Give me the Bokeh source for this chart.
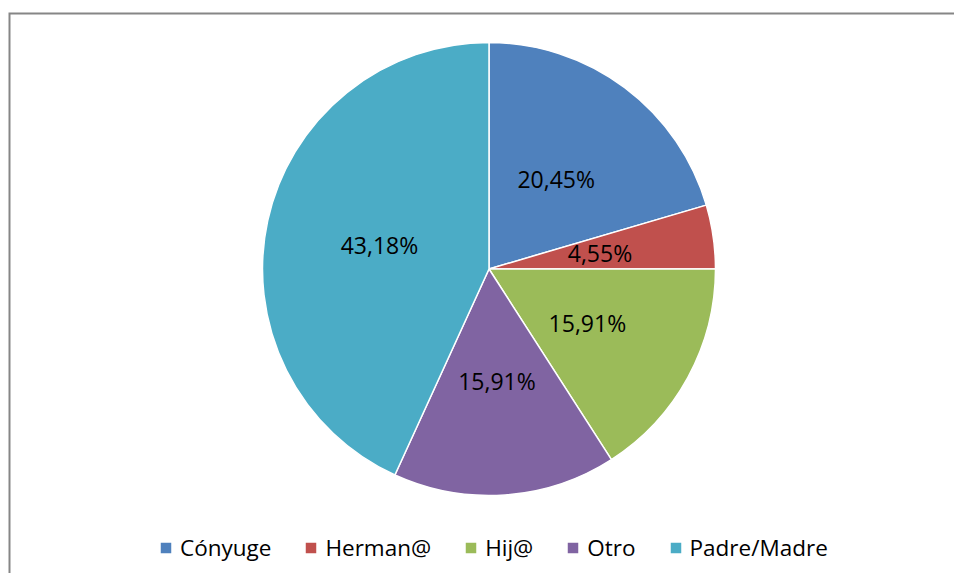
import math
from bokeh.plotting import figure
from bokeh.models import ColumnDataSource, Range1d, Legend, LegendItem
from bokeh.core.properties import value
from bokeh.embed import file_html
from bokeh.resources import INLINE

# ---- data ----
categories = ["Cónyuge", "Herman@", "Hij@", "Otro", "Padre/Madre"]
percents = [20.45, 4.55, 15.91, 15.91, 43.18]
labels = ["20,45%", "4,55%", "15,91%", "15,91%", "43,18%"]
colors = ["#4F81BD", "#C0504D", "#9BBB59", "#8064A2", "#4BACC6"]

# ---- layout ----
W, H = 954, 573
CX, CY = 488.5, 304.5
R = 226.5
LABEL_R = 0.495 * R
FONT = "Open Sans"

total = sum(percents)
starts, ends, lx, ly = [], [], [], []
cum = 0.0
for v in percents:
    a0 = math.pi / 2 - 2 * math.pi * cum / total
    cum += v
    a1 = math.pi / 2 - 2 * math.pi * cum / total
    starts.append(a0)
    ends.append(a1)
    mid = (a0 + a1) / 2
    lx.append(CX + LABEL_R * math.cos(mid))
    ly.append(CY + LABEL_R * math.sin(mid))

src = ColumnDataSource(dict(cat=categories, start=starts, end=ends,
                            color=colors, label=labels, lx=lx, ly=ly,
                            x=[CX] * len(categories), y=[CY] * len(categories)))

p = figure(width=W, height=H, output_backend="svg", toolbar_location=None,
           x_range=Range1d(0, W), y_range=Range1d(0, H), min_border=0,
           outline_line_color=None, background_fill_color="white",
           border_fill_color="white")
p.axis.visible = False
p.grid.visible = False

# chart border (top and left visible)
p.line(x=[9, 9, W + 20], y=[-20, H - 13, H - 13],
       line_color="#868686", line_width=2, line_join="miter")

r = p.wedge(x="x", y="y", radius=R, start_angle="start", end_angle="end",
            direction="clock", fill_color="color", line_color="white",
            line_width=1.5, source=src)

p.text(x="lx", y="ly", text="label", source=src, text_font=value(FONT),
       text_font_size="23px", text_align="center", text_baseline="middle",
       text_color="black")

legend = Legend(items=[], orientation="horizontal", location=(158, 10),
                border_line_color=None, background_fill_alpha=0,
                label_text_font=FONT, label_text_font_size="22.5px",
                label_text_color="black",
                glyph_width=15, glyph_height=15, label_standoff=7,
                spacing=32, padding=0, margin=0)
legend.items = [LegendItem(label=c, renderers=[r], index=i)
                for i, c in enumerate(categories)]
p.add_layout(legend)

open("out.html", "w").write(file_html(p, INLINE))
